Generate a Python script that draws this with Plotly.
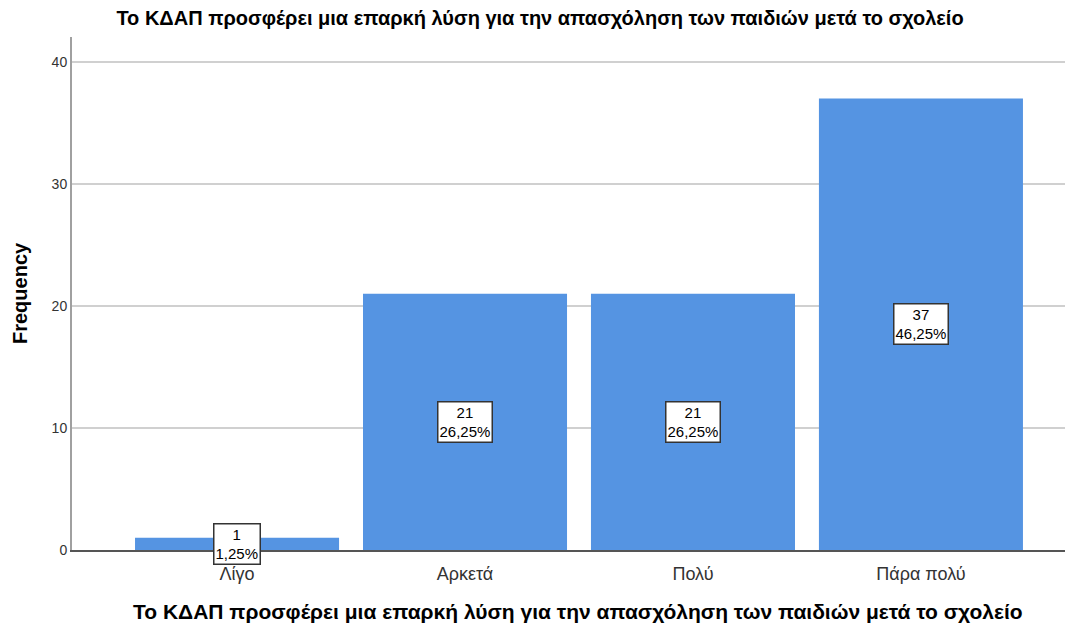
import plotly.graph_objects as go

# Datos
categorias = ["Λίγο", "Αρκετά", "Πολύ", "Πάρα πολύ"]
frecuencias = [1, 21, 21, 37]
porcentajes = ["1,25%", "26,25%", "26,25%", "46,25%"]
titulo = "Το ΚΔΑΠ προσφέρει μια επαρκή λύση για την απασχόληση των παιδιών μετά το σχολείο"

FONT = "Liberation Sans, Arial, sans-serif"

# La página añade 8 px de margen al body: se compensa aquí
W, H = 1065, 616
ML, MT, MR, MB = 64, 29, 0, 74
PW, PH = W - ML - MR, H - MT - MB

fig = go.Figure()
fig.add_trace(go.Bar(
    x=list(range(len(categorias))), y=frecuencias,
    width=0.895, marker=dict(color="#5594E2", line=dict(width=0)),
    hoverinfo="skip",
))

# Etiquetas con caja en el centro de cada barra
for i, (f, p) in enumerate(zip(frecuencias, porcentajes)):
    fig.add_annotation(
        x=i, y=f / 2, text=f"{f}<br>{p}", showarrow=False,
        font=dict(family=FONT, size=15, color="#000000"),
        bgcolor="#FFFFFF", bordercolor="#333333", borderwidth=1.5, borderpad=1,
    )

# Títulos de ejes como anotaciones para fijar su posición
fig.add_annotation(
    text=f"<b>{titulo}</b>", xref="paper", yref="paper",
    x=(578 - 72) / PW, y=-(611 - 550) / PH, xanchor="center", yanchor="middle",
    showarrow=False, font=dict(family=FONT, size=21, color="#000000"),
)
fig.add_annotation(
    text="<b>Frequency</b>", xref="paper", yref="paper", textangle=-90,
    x=(20 - 72) / PW, y=(550 - 293) / PH, xanchor="center", yanchor="middle",
    showarrow=False, font=dict(family=FONT, size=20, color="#000000"),
)

fig.update_layout(
    width=W, height=H,
    margin=dict(l=ML, r=MR, t=MT, b=MB, autoexpand=False),
    paper_bgcolor="#FFFFFF", plot_bgcolor="#FFFFFF",
    showlegend=False,
    title=dict(text=f"<b>{titulo}</b>", x=(540 - 8) / W, xanchor="center",
               y=1 - 10 / H, yanchor="middle",
               font=dict(family=FONT, size=20, color="#000000")),
    font=dict(family=FONT),
)
fig.update_xaxes(
    tickmode="array", tickvals=list(range(len(categorias))), ticktext=categorias,
    range=[-0.724, 3.667], showgrid=False, zeroline=False,
    showline=True, linecolor="#555555", linewidth=2, ticks="",
    ticklabelstandoff=6,
    tickfont=dict(family=FONT, size=18, color="#333333"),
)
fig.update_yaxes(
    range=[0, 42.05], tickvals=[0, 10, 20, 30, 40], showgrid=True,
    gridcolor="#D0D0D0", gridwidth=2, zeroline=False,
    showline=True, linecolor="#A0A0A0", linewidth=2, ticks="",
    tickfont=dict(family=FONT, size=14, color="#333333"),
)

fig.write_html("out.html")
